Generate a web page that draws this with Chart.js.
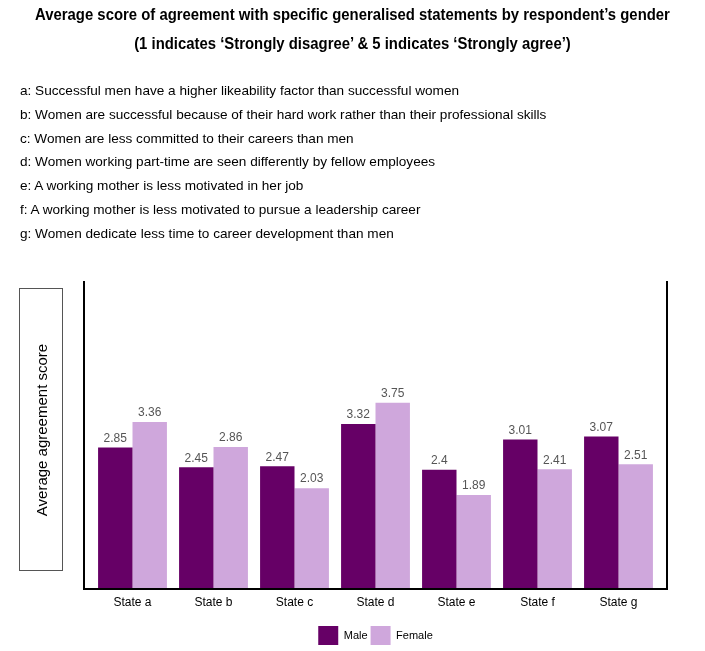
<!DOCTYPE html>
<html>
<head>
<meta charset="utf-8">
<script src="https://cdn.jsdelivr.net/npm/chart.js@4.4.0/dist/chart.umd.min.js"></script>
<style>
    body { margin: 0; background: #fff; font-family: "Liberation Sans", Arial, sans-serif; }
    #wrap { position: relative; width: 705px; height: 651px; overflow: hidden; }
    #chart { position: absolute; left: 0; top: 0; }
    .title {
        position: absolute; left: 0; width: 705px; text-align: center; white-space: nowrap;
        font-family: "Liberation Sans", Arial, sans-serif;
        font-weight: bold; font-size: 16px; color: #000;
        transform: scaleX(0.93); transform-origin: 352px 0;
    }
    #statements {
        position: absolute; left: 20px; top: 79px; margin: 0; padding: 0;
        list-style: none; font-size: 13.6px; line-height: 23.8px; color: #000;
    }
    #ybox {
        position: absolute; left: 19px; top: 288px; width: 42px; height: 281px;
        border: 1.5px solid #555;
    }
    #ylabel {
        position: absolute; left: 50%; top: 50%; white-space: nowrap;
        transform: translate(-50%, -50%) rotate(-90deg);
        font-size: 15px; color: #000;
    }
</style>
</head>
<body>
<div id="wrap">
    <canvas id="chart" width="705" height="651"></canvas>
    <div class="title" style="top:6px">Average score of agreement with specific generalised statements by respondent’s gender</div>
    <div class="title" style="top:35px">(1 indicates ‘Strongly disagree’ &amp; 5 indicates ‘Strongly agree’)</div>
    <ul id="statements"></ul>
    <div id="ybox"><div id="ylabel">Average agreement score</div></div>
</div>
<script>
// Data
const categories = ['State a', 'State b', 'State c', 'State d', 'State e', 'State f', 'State g'];
const maleScores = [2.85, 2.45, 2.47, 3.32, 2.4, 3.01, 3.07];
const femaleScores = [3.36, 2.86, 2.03, 3.75, 1.89, 2.41, 2.51];
const statements = [
    'a: Successful men have a higher likeability factor than successful women',
    'b: Women are successful because of their hard work rather than their professional skills',
    'c: Women are less committed to their careers than men',
    'd: Women working part-time are seen differently by fellow employees',
    'e: A working mother is less motivated in her job',
    'f: A working mother is less motivated to pursue a leadership career',
    'g: Women dedicate less time to career development than men'
];

// Daftar pernyataan
const list = document.getElementById('statements');
statements.forEach(function(s) {
    const li = document.createElement('li');
    li.textContent = s;
    list.appendChild(li);
});

// Garis bingkai (kiri, kanan, bawah) sedikit di luar area batang
const framePlugin = {
    id: 'frame',
    afterDraw(chart) {
        const ctx = chart.ctx;
        const a = chart.chartArea;
        const gap = 8;
        ctx.save();
        ctx.strokeStyle = '#000';
        ctx.lineWidth = 2;
        ctx.beginPath();
        ctx.moveTo(a.left - gap, a.top);
        ctx.lineTo(a.left - gap, a.bottom);
        ctx.lineTo(a.right + gap, a.bottom);
        ctx.lineTo(a.right + gap, a.top);
        ctx.stroke();
        ctx.restore();
    }
};

// Label nilai di atas batang
const valueLabels = {
    id: 'valueLabels',
    afterDatasetsDraw(chart) {
        const ctx = chart.ctx;
        ctx.save();
        ctx.font = '12px "Liberation Sans", Arial, sans-serif';
        ctx.fillStyle = '#555';
        ctx.textAlign = 'center';
        ctx.textBaseline = 'bottom';
        chart.data.datasets.forEach(function(ds, i) {
            chart.getDatasetMeta(i).data.forEach(function(bar, j) {
                ctx.fillText(String(ds.data[j]), bar.x, bar.y - 3);
            });
        });
        ctx.restore();
    }
};

new Chart(document.getElementById('chart'), {
    type: 'bar',
    data: {
        labels: categories,
        datasets: [
            { label: 'Male', data: maleScores, backgroundColor: '#660066' },
            { label: 'Female', data: femaleScores, backgroundColor: '#cfa7dc' }
        ]
    },
    options: {
        responsive: false,
        animation: false,
        layout: { padding: { left: 92, right: 46, top: 281, bottom: -4 } },
        datasets: { bar: { barPercentage: 1, categoryPercentage: 0.85 } },
        plugins: {
            legend: {
                position: 'bottom',
                labels: {
                    boxWidth: 20, boxHeight: 19, padding: 3, color: '#000',
                    font: { family: '"Liberation Sans", Arial, sans-serif', size: 11 }
                }
            },
            tooltip: { enabled: false }
        },
        scales: {
            x: {
                grid: { display: false, drawTicks: false },
                border: { display: false },
                ticks: { color: '#000', padding: 6, font: { family: '"Liberation Sans", Arial, sans-serif', size: 12 } },
                afterFit(scale) { scale.height = 34; }
            },
            y: {
                display: false,
                min: 0,
                max: 6.2
            }
        }
    },
    plugins: [framePlugin, valueLabels]
});
</script>
</body>
</html>
